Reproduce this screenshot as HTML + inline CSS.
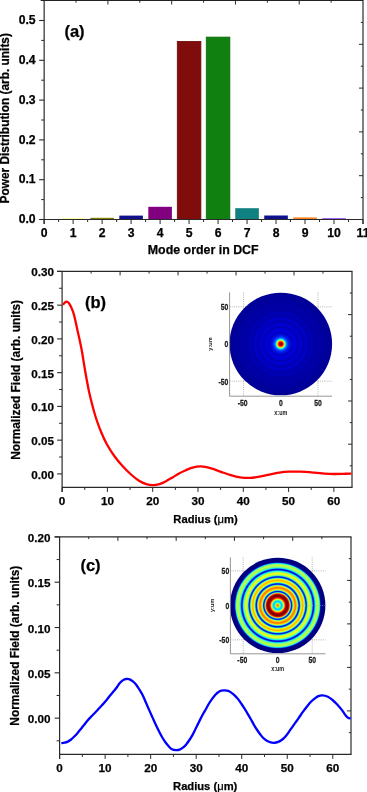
<!DOCTYPE html>
<html><head><meta charset="utf-8"><style>
html,body{margin:0;padding:0;background:#fff;}
body{width:367px;height:792px;overflow:hidden;font-family:"Liberation Sans", sans-serif;}
svg{display:block;will-change:transform;}
text.b{stroke:#000;stroke-width:0.25px;}
</style></head><body>
<svg width="367" height="792" viewBox="0 0 367 792" font-family="'Liberation Sans', sans-serif"><defs><radialGradient id="gb" cx="0.5" cy="0.5" r="0.5"><stop offset="0.0000" stop-color="#800000"/><stop offset="0.0195" stop-color="#a00000"/><stop offset="0.0370" stop-color="#e00000"/><stop offset="0.0526" stop-color="#ff5000"/><stop offset="0.0643" stop-color="#ffc000"/><stop offset="0.0760" stop-color="#c0ff40"/><stop offset="0.0877" stop-color="#40ffc0"/><stop offset="0.1014" stop-color="#00b0ff"/><stop offset="0.1170" stop-color="#0070ff"/><stop offset="0.1345" stop-color="#0040ff"/><stop offset="0.1520" stop-color="#0020f4"/><stop offset="0.1793" stop-color="#0010e4"/><stop offset="0.1988" stop-color="#0006cc"/><stop offset="0.2144" stop-color="#0000b4"/><stop offset="0.2339" stop-color="#0000cc"/><stop offset="0.2534" stop-color="#0000dc"/><stop offset="0.2729" stop-color="#0000e0"/><stop offset="0.2963" stop-color="#0000d0"/><stop offset="0.3314" stop-color="#0000b0"/><stop offset="0.3606" stop-color="#0000c8"/><stop offset="0.3860" stop-color="#0000d4"/><stop offset="0.4094" stop-color="#0000c4"/><stop offset="0.4386" stop-color="#0000ac"/><stop offset="0.4678" stop-color="#0000c0"/><stop offset="0.4971" stop-color="#0000c8"/><stop offset="0.5263" stop-color="#0000b8"/><stop offset="0.5556" stop-color="#0000a4"/><stop offset="0.5848" stop-color="#0000b4"/><stop offset="0.6082" stop-color="#0000b8"/><stop offset="0.6355" stop-color="#0000ac"/><stop offset="0.6628" stop-color="#00009e"/><stop offset="0.7018" stop-color="#0000a8"/><stop offset="0.7797" stop-color="#0000a4"/><stop offset="0.8772" stop-color="#00009c"/><stop offset="1.0000" stop-color="#000096"/></radialGradient><radialGradient id="gc" cx="0.5" cy="0.5" r="0.5"><stop offset="0.0000" stop-color="#ff5b00"/><stop offset="0.0052" stop-color="#ff5f00"/><stop offset="0.0105" stop-color="#ff6c00"/><stop offset="0.0157" stop-color="#ff8100"/><stop offset="0.0210" stop-color="#fe9d01"/><stop offset="0.0262" stop-color="#fbbc04"/><stop offset="0.0314" stop-color="#f2dc0d"/><stop offset="0.0367" stop-color="#dcf123"/><stop offset="0.0419" stop-color="#befb41"/><stop offset="0.0472" stop-color="#98fe67"/><stop offset="0.0524" stop-color="#6afe95"/><stop offset="0.0577" stop-color="#3ffcc0"/><stop offset="0.0629" stop-color="#1ff6e0"/><stop offset="0.0681" stop-color="#0cebf3"/><stop offset="0.0734" stop-color="#03dcfc"/><stop offset="0.0786" stop-color="#00cfff"/><stop offset="0.0839" stop-color="#00caff"/><stop offset="0.0891" stop-color="#01d1fe"/><stop offset="0.0943" stop-color="#05dffa"/><stop offset="0.0996" stop-color="#12efed"/><stop offset="0.1048" stop-color="#2bf8d4"/><stop offset="0.1101" stop-color="#4ffdb0"/><stop offset="0.1153" stop-color="#7cfe83"/><stop offset="0.1205" stop-color="#a9fd56"/><stop offset="0.1258" stop-color="#ccf633"/><stop offset="0.1310" stop-color="#e6e619"/><stop offset="0.1363" stop-color="#f6c609"/><stop offset="0.1415" stop-color="#fd9a02"/><stop offset="0.1468" stop-color="#fe6d00"/><stop offset="0.1520" stop-color="#fb4200"/><stop offset="0.1572" stop-color="#f11f00"/><stop offset="0.1625" stop-color="#e00b00"/><stop offset="0.1677" stop-color="#ca0300"/><stop offset="0.1730" stop-color="#b40100"/><stop offset="0.1782" stop-color="#9f0000"/><stop offset="0.1834" stop-color="#8f0000"/><stop offset="0.1887" stop-color="#860000"/><stop offset="0.1939" stop-color="#810000"/><stop offset="0.1992" stop-color="#800000"/><stop offset="0.2044" stop-color="#800000"/><stop offset="0.2096" stop-color="#830000"/><stop offset="0.2149" stop-color="#890000"/><stop offset="0.2201" stop-color="#950000"/><stop offset="0.2254" stop-color="#a80100"/><stop offset="0.2306" stop-color="#c00400"/><stop offset="0.2358" stop-color="#d80f00"/><stop offset="0.2411" stop-color="#ee2b00"/><stop offset="0.2463" stop-color="#f75903"/><stop offset="0.2516" stop-color="#f28d0c"/><stop offset="0.2568" stop-color="#dbbe24"/><stop offset="0.2621" stop-color="#a8df57"/><stop offset="0.2673" stop-color="#66df99"/><stop offset="0.2725" stop-color="#31bfcb"/><stop offset="0.2778" stop-color="#1288e4"/><stop offset="0.2830" stop-color="#044ae3"/><stop offset="0.2883" stop-color="#0123d7"/><stop offset="0.2935" stop-color="#0020d5"/><stop offset="0.2987" stop-color="#023ee1"/><stop offset="0.3040" stop-color="#0b79e8"/><stop offset="0.3092" stop-color="#24b8d8"/><stop offset="0.3145" stop-color="#50e1af"/><stop offset="0.3197" stop-color="#88f377"/><stop offset="0.3249" stop-color="#c2f43d"/><stop offset="0.3302" stop-color="#e8ea17"/><stop offset="0.3354" stop-color="#f8dc07"/><stop offset="0.3407" stop-color="#fecb01"/><stop offset="0.3459" stop-color="#ffb800"/><stop offset="0.3512" stop-color="#ffa500"/><stop offset="0.3564" stop-color="#ff9400"/><stop offset="0.3616" stop-color="#ff8500"/><stop offset="0.3669" stop-color="#ff7900"/><stop offset="0.3721" stop-color="#ff7800"/><stop offset="0.3774" stop-color="#ff8000"/><stop offset="0.3826" stop-color="#ff9000"/><stop offset="0.3878" stop-color="#ffa500"/><stop offset="0.3931" stop-color="#febb01"/><stop offset="0.3983" stop-color="#fbcf04"/><stop offset="0.4036" stop-color="#f1e10e"/><stop offset="0.4088" stop-color="#d3f02c"/><stop offset="0.4140" stop-color="#a0f65f"/><stop offset="0.4193" stop-color="#66ef98"/><stop offset="0.4245" stop-color="#34d5ca"/><stop offset="0.4298" stop-color="#12a3e9"/><stop offset="0.4350" stop-color="#0465ee"/><stop offset="0.4403" stop-color="#0134e1"/><stop offset="0.4455" stop-color="#0017d1"/><stop offset="0.4507" stop-color="#0013cf"/><stop offset="0.4560" stop-color="#012dde"/><stop offset="0.4612" stop-color="#035ced"/><stop offset="0.4665" stop-color="#0d95ee"/><stop offset="0.4717" stop-color="#26ccd8"/><stop offset="0.4769" stop-color="#54edab"/><stop offset="0.4822" stop-color="#89fa76"/><stop offset="0.4874" stop-color="#bbfd44"/><stop offset="0.4927" stop-color="#e1f91e"/><stop offset="0.4979" stop-color="#f5f10a"/><stop offset="0.5031" stop-color="#fce403"/><stop offset="0.5084" stop-color="#fed501"/><stop offset="0.5136" stop-color="#ffc400"/><stop offset="0.5189" stop-color="#ffb700"/><stop offset="0.5241" stop-color="#ffb300"/><stop offset="0.5294" stop-color="#ffb900"/><stop offset="0.5346" stop-color="#ffc700"/><stop offset="0.5398" stop-color="#fdd902"/><stop offset="0.5451" stop-color="#f7e808"/><stop offset="0.5503" stop-color="#e9f416"/><stop offset="0.5556" stop-color="#cbfb34"/><stop offset="0.5608" stop-color="#a0fc5f"/><stop offset="0.5660" stop-color="#6ff490"/><stop offset="0.5713" stop-color="#40debf"/><stop offset="0.5765" stop-color="#1aafe2"/><stop offset="0.5818" stop-color="#0771ec"/><stop offset="0.5870" stop-color="#023be2"/><stop offset="0.5922" stop-color="#001bd3"/><stop offset="0.5975" stop-color="#0015d0"/><stop offset="0.6027" stop-color="#012ddf"/><stop offset="0.6080" stop-color="#035ced"/><stop offset="0.6132" stop-color="#0d95ee"/><stop offset="0.6184" stop-color="#25ccd9"/><stop offset="0.6237" stop-color="#4cedb3"/><stop offset="0.6289" stop-color="#71fa8e"/><stop offset="0.6342" stop-color="#8ffe70"/><stop offset="0.6394" stop-color="#a7ff58"/><stop offset="0.6447" stop-color="#baff45"/><stop offset="0.6499" stop-color="#caff35"/><stop offset="0.6551" stop-color="#daff25"/><stop offset="0.6604" stop-color="#e9fe16"/><stop offset="0.6656" stop-color="#f2fc0d"/><stop offset="0.6709" stop-color="#f3fc0c"/><stop offset="0.6761" stop-color="#eafd15"/><stop offset="0.6813" stop-color="#d6fe29"/><stop offset="0.6866" stop-color="#bdff42"/><stop offset="0.6918" stop-color="#a4ff5b"/><stop offset="0.6971" stop-color="#8bff74"/><stop offset="0.7023" stop-color="#6fff90"/><stop offset="0.7075" stop-color="#54feab"/><stop offset="0.7128" stop-color="#3bfcc4"/><stop offset="0.7180" stop-color="#24f2db"/><stop offset="0.7233" stop-color="#11d8ed"/><stop offset="0.7285" stop-color="#06a9f7"/><stop offset="0.7338" stop-color="#0273f6"/><stop offset="0.7390" stop-color="#0040ea"/><stop offset="0.7442" stop-color="#001ad4"/><stop offset="0.7495" stop-color="#000ac5"/><stop offset="0.7547" stop-color="#000cca"/><stop offset="0.7600" stop-color="#001edd"/><stop offset="0.7652" stop-color="#0044f1"/><stop offset="0.7704" stop-color="#017afa"/><stop offset="0.7757" stop-color="#06acf9"/><stop offset="0.7809" stop-color="#10d6ef"/><stop offset="0.7862" stop-color="#23f0dc"/><stop offset="0.7914" stop-color="#3dfbc2"/><stop offset="0.7966" stop-color="#58fea7"/><stop offset="0.8019" stop-color="#71ff8e"/><stop offset="0.8071" stop-color="#87ff78"/><stop offset="0.8124" stop-color="#98ff67"/><stop offset="0.8176" stop-color="#a2ff5d"/><stop offset="0.8229" stop-color="#aaff55"/><stop offset="0.8281" stop-color="#b2ff4d"/><stop offset="0.8333" stop-color="#b8ff47"/><stop offset="0.8386" stop-color="#bbff44"/><stop offset="0.8438" stop-color="#baff45"/><stop offset="0.8491" stop-color="#b2ff4d"/><stop offset="0.8543" stop-color="#a4ff5b"/><stop offset="0.8595" stop-color="#94ff6b"/><stop offset="0.8648" stop-color="#7fff80"/><stop offset="0.8700" stop-color="#5ffca0"/><stop offset="0.8753" stop-color="#3bf3c4"/><stop offset="0.8805" stop-color="#1edae0"/><stop offset="0.8857" stop-color="#0caef0"/><stop offset="0.8910" stop-color="#036fed"/><stop offset="0.8962" stop-color="#0036d6"/><stop offset="0.9015" stop-color="#0014b6"/><stop offset="0.9067" stop-color="#000699"/><stop offset="0.9119" stop-color="#000187"/><stop offset="0.9172" stop-color="#000081"/><stop offset="0.9224" stop-color="#000080"/><stop offset="0.9277" stop-color="#000080"/><stop offset="0.9329" stop-color="#000080"/><stop offset="0.9382" stop-color="#000080"/><stop offset="0.9434" stop-color="#000080"/><stop offset="0.9486" stop-color="#000080"/><stop offset="0.9539" stop-color="#000080"/><stop offset="0.9591" stop-color="#000080"/><stop offset="0.9644" stop-color="#000080"/><stop offset="0.9696" stop-color="#000080"/><stop offset="0.9748" stop-color="#000080"/><stop offset="0.9801" stop-color="#000080"/><stop offset="0.9853" stop-color="#000080"/><stop offset="0.9906" stop-color="#000080"/><stop offset="0.9958" stop-color="#000080"/></radialGradient></defs><rect x="61.34" y="218.60" width="23.60" height="0.90" fill="#ffff10"/><rect x="90.32" y="217.80" width="23.60" height="1.70" fill="#808000"/><rect x="119.31" y="215.60" width="23.60" height="3.90" fill="#10108c"/><rect x="148.30" y="206.80" width="23.60" height="12.70" fill="#800080"/><rect x="177.28" y="41.40" width="23.60" height="178.10" fill="#800c0c" stroke="#6a0808" stroke-width="0.8"/><rect x="206.27" y="37.10" width="23.60" height="182.40" fill="#108010" stroke="#0c6a0c" stroke-width="0.8"/><rect x="235.25" y="208.20" width="23.60" height="11.30" fill="#108080"/><rect x="264.24" y="215.50" width="23.60" height="4.00" fill="#10108c"/><rect x="293.23" y="217.40" width="23.60" height="2.10" fill="#ff8020"/><rect x="322.21" y="218.30" width="23.60" height="1.20" fill="#8020ff"/><line x1="44.15" y1="0.00" x2="44.15" y2="224.00" stroke="#2a2a2a" stroke-width="1.2" /><line x1="40.65" y1="0.50" x2="363.50" y2="0.50" stroke="#222" stroke-width="1.2" /><line x1="363.00" y1="0.50" x2="363.00" y2="224.00" stroke="#2a2a2a" stroke-width="1.2" /><line x1="44.15" y1="219.50" x2="363.00" y2="219.50" stroke="#2a2a2a" stroke-width="1.2" /><line x1="39.15" y1="219.50" x2="44.15" y2="219.50" stroke="#2a2a2a" stroke-width="1.1" /><text class="b" x="35.60" y="223.20" font-size="12.2" font-weight="bold" text-anchor="end" fill="#000" >0.0</text><line x1="41.15" y1="199.60" x2="44.15" y2="199.60" stroke="#2a2a2a" stroke-width="1.0" /><line x1="39.15" y1="179.70" x2="44.15" y2="179.70" stroke="#2a2a2a" stroke-width="1.1" /><text class="b" x="35.60" y="183.40" font-size="12.2" font-weight="bold" text-anchor="end" fill="#000" >0.1</text><line x1="41.15" y1="159.80" x2="44.15" y2="159.80" stroke="#2a2a2a" stroke-width="1.0" /><line x1="39.15" y1="139.90" x2="44.15" y2="139.90" stroke="#2a2a2a" stroke-width="1.1" /><text class="b" x="35.60" y="143.60" font-size="12.2" font-weight="bold" text-anchor="end" fill="#000" >0.2</text><line x1="41.15" y1="120.00" x2="44.15" y2="120.00" stroke="#2a2a2a" stroke-width="1.0" /><line x1="39.15" y1="100.10" x2="44.15" y2="100.10" stroke="#2a2a2a" stroke-width="1.1" /><text class="b" x="35.60" y="103.80" font-size="12.2" font-weight="bold" text-anchor="end" fill="#000" >0.3</text><line x1="41.15" y1="80.20" x2="44.15" y2="80.20" stroke="#2a2a2a" stroke-width="1.0" /><line x1="39.15" y1="60.30" x2="44.15" y2="60.30" stroke="#2a2a2a" stroke-width="1.1" /><text class="b" x="35.60" y="64.00" font-size="12.2" font-weight="bold" text-anchor="end" fill="#000" >0.4</text><line x1="41.15" y1="40.40" x2="44.15" y2="40.40" stroke="#2a2a2a" stroke-width="1.0" /><line x1="39.15" y1="20.50" x2="44.15" y2="20.50" stroke="#2a2a2a" stroke-width="1.1" /><text class="b" x="35.60" y="24.20" font-size="12.2" font-weight="bold" text-anchor="end" fill="#000" >0.5</text><line x1="44.15" y1="219.50" x2="44.15" y2="224.00" stroke="#2a2a2a" stroke-width="1.0" /><text class="b" x="44.15" y="237.20" font-size="12.2" font-weight="bold" text-anchor="middle" fill="#000" >0</text><line x1="58.64" y1="219.50" x2="58.64" y2="222.00" stroke="#2a2a2a" stroke-width="1.0" /><line x1="73.14" y1="219.50" x2="73.14" y2="224.00" stroke="#2a2a2a" stroke-width="1.0" /><text class="b" x="73.14" y="237.20" font-size="12.2" font-weight="bold" text-anchor="middle" fill="#000" >1</text><line x1="87.63" y1="219.50" x2="87.63" y2="222.00" stroke="#2a2a2a" stroke-width="1.0" /><line x1="102.12" y1="219.50" x2="102.12" y2="224.00" stroke="#2a2a2a" stroke-width="1.0" /><text class="b" x="102.12" y="237.20" font-size="12.2" font-weight="bold" text-anchor="middle" fill="#000" >2</text><line x1="116.62" y1="219.50" x2="116.62" y2="222.00" stroke="#2a2a2a" stroke-width="1.0" /><line x1="131.11" y1="219.50" x2="131.11" y2="224.00" stroke="#2a2a2a" stroke-width="1.0" /><text class="b" x="131.11" y="237.20" font-size="12.2" font-weight="bold" text-anchor="middle" fill="#000" >3</text><line x1="145.60" y1="219.50" x2="145.60" y2="222.00" stroke="#2a2a2a" stroke-width="1.0" /><line x1="160.10" y1="219.50" x2="160.10" y2="224.00" stroke="#2a2a2a" stroke-width="1.0" /><text class="b" x="160.10" y="237.20" font-size="12.2" font-weight="bold" text-anchor="middle" fill="#000" >4</text><line x1="174.59" y1="219.50" x2="174.59" y2="222.00" stroke="#2a2a2a" stroke-width="1.0" /><line x1="189.08" y1="219.50" x2="189.08" y2="224.00" stroke="#2a2a2a" stroke-width="1.0" /><text class="b" x="189.08" y="237.20" font-size="12.2" font-weight="bold" text-anchor="middle" fill="#000" >5</text><line x1="203.58" y1="219.50" x2="203.58" y2="222.00" stroke="#2a2a2a" stroke-width="1.0" /><line x1="218.07" y1="219.50" x2="218.07" y2="224.00" stroke="#2a2a2a" stroke-width="1.0" /><text class="b" x="218.07" y="237.20" font-size="12.2" font-weight="bold" text-anchor="middle" fill="#000" >6</text><line x1="232.56" y1="219.50" x2="232.56" y2="222.00" stroke="#2a2a2a" stroke-width="1.0" /><line x1="247.05" y1="219.50" x2="247.05" y2="224.00" stroke="#2a2a2a" stroke-width="1.0" /><text class="b" x="247.05" y="237.20" font-size="12.2" font-weight="bold" text-anchor="middle" fill="#000" >7</text><line x1="261.55" y1="219.50" x2="261.55" y2="222.00" stroke="#2a2a2a" stroke-width="1.0" /><line x1="276.04" y1="219.50" x2="276.04" y2="224.00" stroke="#2a2a2a" stroke-width="1.0" /><text class="b" x="276.04" y="237.20" font-size="12.2" font-weight="bold" text-anchor="middle" fill="#000" >8</text><line x1="290.53" y1="219.50" x2="290.53" y2="222.00" stroke="#2a2a2a" stroke-width="1.0" /><line x1="305.03" y1="219.50" x2="305.03" y2="224.00" stroke="#2a2a2a" stroke-width="1.0" /><text class="b" x="305.03" y="237.20" font-size="12.2" font-weight="bold" text-anchor="middle" fill="#000" >9</text><line x1="319.52" y1="219.50" x2="319.52" y2="222.00" stroke="#2a2a2a" stroke-width="1.0" /><line x1="334.01" y1="219.50" x2="334.01" y2="224.00" stroke="#2a2a2a" stroke-width="1.0" /><text class="b" x="334.01" y="237.20" font-size="12.2" font-weight="bold" text-anchor="middle" fill="#000" >10</text><line x1="348.51" y1="219.50" x2="348.51" y2="222.00" stroke="#2a2a2a" stroke-width="1.0" /><line x1="363.00" y1="219.50" x2="363.00" y2="224.00" stroke="#2a2a2a" stroke-width="1.0" /><text class="b" x="363.00" y="237.20" font-size="12.2" font-weight="bold" text-anchor="middle" fill="#000" >11</text><line x1="76.03" y1="0.50" x2="76.03" y2="2.70" stroke="#2a2a2a" stroke-width="1.0" /><line x1="107.92" y1="0.50" x2="107.92" y2="4.50" stroke="#2a2a2a" stroke-width="1.0" /><line x1="139.81" y1="0.50" x2="139.81" y2="2.70" stroke="#2a2a2a" stroke-width="1.0" /><line x1="171.69" y1="0.50" x2="171.69" y2="4.50" stroke="#2a2a2a" stroke-width="1.0" /><line x1="203.58" y1="0.50" x2="203.58" y2="2.70" stroke="#2a2a2a" stroke-width="1.0" /><line x1="235.46" y1="0.50" x2="235.46" y2="4.50" stroke="#2a2a2a" stroke-width="1.0" /><line x1="267.35" y1="0.50" x2="267.35" y2="2.70" stroke="#2a2a2a" stroke-width="1.0" /><line x1="299.23" y1="0.50" x2="299.23" y2="4.50" stroke="#2a2a2a" stroke-width="1.0" /><line x1="331.12" y1="0.50" x2="331.12" y2="2.70" stroke="#2a2a2a" stroke-width="1.0" /><line x1="360.80" y1="22.40" x2="363.00" y2="22.40" stroke="#2a2a2a" stroke-width="1.0" /><line x1="359.00" y1="44.30" x2="363.00" y2="44.30" stroke="#2a2a2a" stroke-width="1.0" /><line x1="360.80" y1="66.20" x2="363.00" y2="66.20" stroke="#2a2a2a" stroke-width="1.0" /><line x1="359.00" y1="88.10" x2="363.00" y2="88.10" stroke="#2a2a2a" stroke-width="1.0" /><line x1="360.80" y1="110.00" x2="363.00" y2="110.00" stroke="#2a2a2a" stroke-width="1.0" /><line x1="359.00" y1="131.90" x2="363.00" y2="131.90" stroke="#2a2a2a" stroke-width="1.0" /><line x1="360.80" y1="153.80" x2="363.00" y2="153.80" stroke="#2a2a2a" stroke-width="1.0" /><line x1="359.00" y1="175.70" x2="363.00" y2="175.70" stroke="#2a2a2a" stroke-width="1.0" /><line x1="360.80" y1="197.60" x2="363.00" y2="197.60" stroke="#2a2a2a" stroke-width="1.0" /><text class="b" x="74.50" y="37.10" font-size="16.5" font-weight="bold" text-anchor="middle" fill="#000" >(a)</text><text class="b" x="203.20" y="254.10" font-size="12.4" font-weight="bold" text-anchor="middle" fill="#000" >Mode order in DCF</text><text class="b" transform="translate(8.7,118.3) rotate(-90)" font-size="11.9" font-weight="bold" text-anchor="middle">Power Distribution (arb. units)</text><line x1="62.10" y1="271.40" x2="62.10" y2="491.90" stroke="#2a2a2a" stroke-width="1.2" /><line x1="57.10" y1="271.40" x2="352.50" y2="271.40" stroke="#2a2a2a" stroke-width="1.2" /><line x1="352.00" y1="271.40" x2="352.00" y2="487.40" stroke="#2a2a2a" stroke-width="1.2" /><line x1="62.10" y1="487.40" x2="352.50" y2="487.40" stroke="#2a2a2a" stroke-width="1.2" /><line x1="57.10" y1="473.90" x2="62.10" y2="473.90" stroke="#2a2a2a" stroke-width="1.1" /><text class="b" x="54.00" y="478.90" font-size="11.7" font-weight="bold" text-anchor="end" fill="#000" >0.00</text><line x1="59.10" y1="457.02" x2="62.10" y2="457.02" stroke="#2a2a2a" stroke-width="1.0" /><line x1="57.10" y1="440.15" x2="62.10" y2="440.15" stroke="#2a2a2a" stroke-width="1.1" /><text class="b" x="54.00" y="445.15" font-size="11.7" font-weight="bold" text-anchor="end" fill="#000" >0.05</text><line x1="59.10" y1="423.27" x2="62.10" y2="423.27" stroke="#2a2a2a" stroke-width="1.0" /><line x1="57.10" y1="406.40" x2="62.10" y2="406.40" stroke="#2a2a2a" stroke-width="1.1" /><text class="b" x="54.00" y="411.40" font-size="11.7" font-weight="bold" text-anchor="end" fill="#000" >0.10</text><line x1="59.10" y1="389.52" x2="62.10" y2="389.52" stroke="#2a2a2a" stroke-width="1.0" /><line x1="57.10" y1="372.65" x2="62.10" y2="372.65" stroke="#2a2a2a" stroke-width="1.1" /><text class="b" x="54.00" y="377.65" font-size="11.7" font-weight="bold" text-anchor="end" fill="#000" >0.15</text><line x1="59.10" y1="355.77" x2="62.10" y2="355.77" stroke="#2a2a2a" stroke-width="1.0" /><line x1="57.10" y1="338.90" x2="62.10" y2="338.90" stroke="#2a2a2a" stroke-width="1.1" /><text class="b" x="54.00" y="343.90" font-size="11.7" font-weight="bold" text-anchor="end" fill="#000" >0.20</text><line x1="59.10" y1="322.02" x2="62.10" y2="322.02" stroke="#2a2a2a" stroke-width="1.0" /><line x1="57.10" y1="305.15" x2="62.10" y2="305.15" stroke="#2a2a2a" stroke-width="1.1" /><text class="b" x="54.00" y="310.15" font-size="11.7" font-weight="bold" text-anchor="end" fill="#000" >0.25</text><line x1="59.10" y1="288.27" x2="62.10" y2="288.27" stroke="#2a2a2a" stroke-width="1.0" /><line x1="57.10" y1="271.40" x2="62.10" y2="271.40" stroke="#2a2a2a" stroke-width="1.1" /><text class="b" x="54.00" y="276.40" font-size="11.7" font-weight="bold" text-anchor="end" fill="#000" >0.30</text><line x1="62.10" y1="487.40" x2="62.10" y2="491.90" stroke="#2a2a2a" stroke-width="1.0" /><text class="b" x="62.10" y="504.80" font-size="11.7" font-weight="bold" text-anchor="middle" fill="#000" >0</text><line x1="84.75" y1="487.40" x2="84.75" y2="489.90" stroke="#2a2a2a" stroke-width="1.0" /><line x1="107.40" y1="487.40" x2="107.40" y2="491.90" stroke="#2a2a2a" stroke-width="1.0" /><text class="b" x="107.40" y="504.80" font-size="11.7" font-weight="bold" text-anchor="middle" fill="#000" >10</text><line x1="130.05" y1="487.40" x2="130.05" y2="489.90" stroke="#2a2a2a" stroke-width="1.0" /><line x1="152.69" y1="487.40" x2="152.69" y2="491.90" stroke="#2a2a2a" stroke-width="1.0" /><text class="b" x="152.69" y="504.80" font-size="11.7" font-weight="bold" text-anchor="middle" fill="#000" >20</text><line x1="175.34" y1="487.40" x2="175.34" y2="489.90" stroke="#2a2a2a" stroke-width="1.0" /><line x1="197.99" y1="487.40" x2="197.99" y2="491.90" stroke="#2a2a2a" stroke-width="1.0" /><text class="b" x="197.99" y="504.80" font-size="11.7" font-weight="bold" text-anchor="middle" fill="#000" >30</text><line x1="220.64" y1="487.40" x2="220.64" y2="489.90" stroke="#2a2a2a" stroke-width="1.0" /><line x1="243.29" y1="487.40" x2="243.29" y2="491.90" stroke="#2a2a2a" stroke-width="1.0" /><text class="b" x="243.29" y="504.80" font-size="11.7" font-weight="bold" text-anchor="middle" fill="#000" >40</text><line x1="265.94" y1="487.40" x2="265.94" y2="489.90" stroke="#2a2a2a" stroke-width="1.0" /><line x1="288.58" y1="487.40" x2="288.58" y2="491.90" stroke="#2a2a2a" stroke-width="1.0" /><text class="b" x="288.58" y="504.80" font-size="11.7" font-weight="bold" text-anchor="middle" fill="#000" >50</text><line x1="311.23" y1="487.40" x2="311.23" y2="489.90" stroke="#2a2a2a" stroke-width="1.0" /><line x1="333.88" y1="487.40" x2="333.88" y2="491.90" stroke="#2a2a2a" stroke-width="1.0" /><text class="b" x="333.88" y="504.80" font-size="11.7" font-weight="bold" text-anchor="middle" fill="#000" >60</text><line x1="91.09" y1="271.40" x2="91.09" y2="273.60" stroke="#2a2a2a" stroke-width="1.0" /><line x1="120.08" y1="271.40" x2="120.08" y2="275.40" stroke="#2a2a2a" stroke-width="1.0" /><line x1="149.07" y1="271.40" x2="149.07" y2="273.60" stroke="#2a2a2a" stroke-width="1.0" /><line x1="178.06" y1="271.40" x2="178.06" y2="275.40" stroke="#2a2a2a" stroke-width="1.0" /><line x1="207.05" y1="271.40" x2="207.05" y2="273.60" stroke="#2a2a2a" stroke-width="1.0" /><line x1="236.04" y1="271.40" x2="236.04" y2="275.40" stroke="#2a2a2a" stroke-width="1.0" /><line x1="265.03" y1="271.40" x2="265.03" y2="273.60" stroke="#2a2a2a" stroke-width="1.0" /><line x1="294.02" y1="271.40" x2="294.02" y2="275.40" stroke="#2a2a2a" stroke-width="1.0" /><line x1="323.01" y1="271.40" x2="323.01" y2="273.60" stroke="#2a2a2a" stroke-width="1.0" /><line x1="349.80" y1="293.00" x2="352.00" y2="293.00" stroke="#2a2a2a" stroke-width="1.0" /><line x1="348.00" y1="314.60" x2="352.00" y2="314.60" stroke="#2a2a2a" stroke-width="1.0" /><line x1="349.80" y1="336.20" x2="352.00" y2="336.20" stroke="#2a2a2a" stroke-width="1.0" /><line x1="348.00" y1="357.80" x2="352.00" y2="357.80" stroke="#2a2a2a" stroke-width="1.0" /><line x1="349.80" y1="379.40" x2="352.00" y2="379.40" stroke="#2a2a2a" stroke-width="1.0" /><line x1="348.00" y1="401.00" x2="352.00" y2="401.00" stroke="#2a2a2a" stroke-width="1.0" /><line x1="349.80" y1="422.60" x2="352.00" y2="422.60" stroke="#2a2a2a" stroke-width="1.0" /><line x1="348.00" y1="444.20" x2="352.00" y2="444.20" stroke="#2a2a2a" stroke-width="1.0" /><line x1="349.80" y1="465.80" x2="352.00" y2="465.80" stroke="#2a2a2a" stroke-width="1.0" /><text class="b" x="95.60" y="308.20" font-size="16.5" font-weight="bold" text-anchor="middle" fill="#000" >(b)</text><text class="b" x="205.50" y="522.60" font-size="11.2" font-weight="bold" text-anchor="middle" fill="#000" >Radius (<tspan font-weight="normal">&#956;</tspan>m)</text><text class="b" transform="translate(20.2,379.9) rotate(-90)" font-size="11.9" font-weight="bold" text-anchor="middle">Normalized Field (arb. units)</text><path d="M63.00,304.80 C63.30,304.43 64.23,303.13 64.80,302.60 C65.37,302.07 65.87,301.65 66.40,301.60 C66.93,301.55 67.50,301.93 68.00,302.30 C68.50,302.67 68.80,302.83 69.40,303.80 C70.00,304.77 70.87,306.38 71.60,308.10 C72.33,309.82 73.13,311.85 73.80,314.10 C74.47,316.35 74.97,318.78 75.60,321.60 C76.23,324.42 76.90,327.80 77.60,331.00 C78.30,334.20 79.07,337.35 79.80,340.80 C80.53,344.25 81.22,347.33 82.00,351.70 C82.78,356.07 83.75,362.53 84.50,367.00 C85.25,371.47 85.75,374.42 86.50,378.50 C87.25,382.58 88.03,387.08 89.00,391.50 C89.97,395.92 91.08,400.42 92.30,405.00 C93.52,409.58 94.80,414.42 96.30,419.00 C97.80,423.58 99.52,428.25 101.30,432.50 C103.08,436.75 104.83,440.58 107.00,444.50 C109.17,448.42 111.72,452.42 114.30,456.00 C116.88,459.58 119.80,463.00 122.50,466.00 C125.20,469.00 127.75,471.53 130.50,474.00 C133.25,476.47 136.37,479.10 139.00,480.80 C141.63,482.50 143.98,483.48 146.30,484.20 C148.62,484.92 150.72,485.12 152.90,485.10 C155.08,485.08 157.22,484.75 159.40,484.10 C161.58,483.45 163.82,482.32 166.00,481.20 C168.18,480.08 170.33,478.68 172.50,477.40 C174.67,476.12 176.87,474.65 179.00,473.50 C181.13,472.35 183.22,471.45 185.30,470.50 C187.38,469.55 188.83,468.48 191.50,467.80 C194.17,467.12 198.02,466.30 201.30,466.40 C204.58,466.50 207.92,467.50 211.20,468.40 C214.48,469.30 217.73,470.68 221.00,471.80 C224.27,472.92 227.63,474.18 230.80,475.10 C233.97,476.02 236.83,476.83 240.00,477.30 C243.17,477.77 246.53,478.00 249.80,477.90 C253.07,477.80 256.33,477.25 259.60,476.70 C262.87,476.15 266.13,475.27 269.40,474.60 C272.67,473.93 275.93,473.18 279.20,472.70 C282.47,472.22 285.53,471.87 289.00,471.70 C292.47,471.53 295.73,471.53 300.00,471.70 C304.27,471.87 310.53,472.38 314.60,472.70 C318.67,473.02 321.13,473.38 324.40,473.60 C327.67,473.82 330.93,473.97 334.20,474.00 C337.47,474.03 341.13,473.87 344.00,473.80 C346.87,473.73 350.17,473.63 351.40,473.60" fill="none" stroke="#ff0000" stroke-width="2.3" stroke-linejoin="round" stroke-linecap="butt"/><line x1="59.60" y1="536.90" x2="59.60" y2="758.90" stroke="#2a2a2a" stroke-width="1.2" /><line x1="54.60" y1="536.90" x2="351.50" y2="536.90" stroke="#2a2a2a" stroke-width="1.2" /><line x1="351.00" y1="536.90" x2="351.00" y2="754.40" stroke="#2a2a2a" stroke-width="1.2" /><line x1="59.60" y1="754.40" x2="351.50" y2="754.40" stroke="#2a2a2a" stroke-width="1.2" /><line x1="56.60" y1="740.81" x2="59.60" y2="740.81" stroke="#2a2a2a" stroke-width="1.0" /><line x1="54.60" y1="718.15" x2="59.60" y2="718.15" stroke="#2a2a2a" stroke-width="1.1" /><text class="b" x="50.40" y="723.15" font-size="11.7" font-weight="bold" text-anchor="end" fill="#000" >0.00</text><line x1="56.60" y1="695.49" x2="59.60" y2="695.49" stroke="#2a2a2a" stroke-width="1.0" /><line x1="54.60" y1="672.84" x2="59.60" y2="672.84" stroke="#2a2a2a" stroke-width="1.1" /><text class="b" x="50.40" y="677.84" font-size="11.7" font-weight="bold" text-anchor="end" fill="#000" >0.05</text><line x1="56.60" y1="650.18" x2="59.60" y2="650.18" stroke="#2a2a2a" stroke-width="1.0" /><line x1="54.60" y1="627.52" x2="59.60" y2="627.52" stroke="#2a2a2a" stroke-width="1.1" /><text class="b" x="50.40" y="632.52" font-size="11.7" font-weight="bold" text-anchor="end" fill="#000" >0.10</text><line x1="56.60" y1="604.87" x2="59.60" y2="604.87" stroke="#2a2a2a" stroke-width="1.0" /><line x1="54.60" y1="582.21" x2="59.60" y2="582.21" stroke="#2a2a2a" stroke-width="1.1" /><text class="b" x="50.40" y="587.21" font-size="11.7" font-weight="bold" text-anchor="end" fill="#000" >0.15</text><line x1="56.60" y1="559.56" x2="59.60" y2="559.56" stroke="#2a2a2a" stroke-width="1.0" /><line x1="54.60" y1="536.90" x2="59.60" y2="536.90" stroke="#2a2a2a" stroke-width="1.1" /><text class="b" x="50.40" y="541.90" font-size="11.7" font-weight="bold" text-anchor="end" fill="#000" >0.20</text><line x1="59.60" y1="754.40" x2="59.60" y2="758.90" stroke="#2a2a2a" stroke-width="1.0" /><text class="b" x="59.60" y="771.80" font-size="11.7" font-weight="bold" text-anchor="middle" fill="#000" >0</text><line x1="82.37" y1="754.40" x2="82.37" y2="756.90" stroke="#2a2a2a" stroke-width="1.0" /><line x1="105.13" y1="754.40" x2="105.13" y2="758.90" stroke="#2a2a2a" stroke-width="1.0" /><text class="b" x="105.13" y="771.80" font-size="11.7" font-weight="bold" text-anchor="middle" fill="#000" >10</text><line x1="127.90" y1="754.40" x2="127.90" y2="756.90" stroke="#2a2a2a" stroke-width="1.0" /><line x1="150.66" y1="754.40" x2="150.66" y2="758.90" stroke="#2a2a2a" stroke-width="1.0" /><text class="b" x="150.66" y="771.80" font-size="11.7" font-weight="bold" text-anchor="middle" fill="#000" >20</text><line x1="173.43" y1="754.40" x2="173.43" y2="756.90" stroke="#2a2a2a" stroke-width="1.0" /><line x1="196.19" y1="754.40" x2="196.19" y2="758.90" stroke="#2a2a2a" stroke-width="1.0" /><text class="b" x="196.19" y="771.80" font-size="11.7" font-weight="bold" text-anchor="middle" fill="#000" >30</text><line x1="218.96" y1="754.40" x2="218.96" y2="756.90" stroke="#2a2a2a" stroke-width="1.0" /><line x1="241.72" y1="754.40" x2="241.72" y2="758.90" stroke="#2a2a2a" stroke-width="1.0" /><text class="b" x="241.72" y="771.80" font-size="11.7" font-weight="bold" text-anchor="middle" fill="#000" >40</text><line x1="264.49" y1="754.40" x2="264.49" y2="756.90" stroke="#2a2a2a" stroke-width="1.0" /><line x1="287.26" y1="754.40" x2="287.26" y2="758.90" stroke="#2a2a2a" stroke-width="1.0" /><text class="b" x="287.26" y="771.80" font-size="11.7" font-weight="bold" text-anchor="middle" fill="#000" >50</text><line x1="310.02" y1="754.40" x2="310.02" y2="756.90" stroke="#2a2a2a" stroke-width="1.0" /><line x1="332.79" y1="754.40" x2="332.79" y2="758.90" stroke="#2a2a2a" stroke-width="1.0" /><text class="b" x="332.79" y="771.80" font-size="11.7" font-weight="bold" text-anchor="middle" fill="#000" >60</text><line x1="88.74" y1="536.90" x2="88.74" y2="539.10" stroke="#2a2a2a" stroke-width="1.0" /><line x1="117.88" y1="536.90" x2="117.88" y2="540.90" stroke="#2a2a2a" stroke-width="1.0" /><line x1="147.02" y1="536.90" x2="147.02" y2="539.10" stroke="#2a2a2a" stroke-width="1.0" /><line x1="176.16" y1="536.90" x2="176.16" y2="540.90" stroke="#2a2a2a" stroke-width="1.0" /><line x1="205.30" y1="536.90" x2="205.30" y2="539.10" stroke="#2a2a2a" stroke-width="1.0" /><line x1="234.44" y1="536.90" x2="234.44" y2="540.90" stroke="#2a2a2a" stroke-width="1.0" /><line x1="263.58" y1="536.90" x2="263.58" y2="539.10" stroke="#2a2a2a" stroke-width="1.0" /><line x1="292.72" y1="536.90" x2="292.72" y2="540.90" stroke="#2a2a2a" stroke-width="1.0" /><line x1="321.86" y1="536.90" x2="321.86" y2="539.10" stroke="#2a2a2a" stroke-width="1.0" /><line x1="348.80" y1="558.65" x2="351.00" y2="558.65" stroke="#2a2a2a" stroke-width="1.0" /><line x1="347.00" y1="580.40" x2="351.00" y2="580.40" stroke="#2a2a2a" stroke-width="1.0" /><line x1="348.80" y1="602.15" x2="351.00" y2="602.15" stroke="#2a2a2a" stroke-width="1.0" /><line x1="347.00" y1="623.90" x2="351.00" y2="623.90" stroke="#2a2a2a" stroke-width="1.0" /><line x1="348.80" y1="645.65" x2="351.00" y2="645.65" stroke="#2a2a2a" stroke-width="1.0" /><line x1="347.00" y1="667.40" x2="351.00" y2="667.40" stroke="#2a2a2a" stroke-width="1.0" /><line x1="348.80" y1="689.15" x2="351.00" y2="689.15" stroke="#2a2a2a" stroke-width="1.0" /><line x1="347.00" y1="710.90" x2="351.00" y2="710.90" stroke="#2a2a2a" stroke-width="1.0" /><line x1="348.80" y1="732.65" x2="351.00" y2="732.65" stroke="#2a2a2a" stroke-width="1.0" /><text class="b" x="90.50" y="570.90" font-size="16.5" font-weight="bold" text-anchor="middle" fill="#000" >(c)</text><text class="b" x="205.20" y="789.50" font-size="11.2" font-weight="bold" text-anchor="middle" fill="#000" >Radius (<tspan font-weight="normal">&#956;</tspan>m)</text><text class="b" transform="translate(19.3,645.7) rotate(-90)" font-size="11.9" font-weight="bold" text-anchor="middle">Normalized Field (arb. units)</text><path d="M61.30,743.10 C61.83,743.03 63.42,742.95 64.50,742.70 C65.58,742.45 66.70,742.13 67.80,741.60 C68.90,741.07 70.02,740.35 71.10,739.50 C72.18,738.65 73.22,737.60 74.30,736.50 C75.38,735.40 76.50,734.17 77.60,732.90 C78.70,731.63 79.80,730.25 80.90,728.90 C82.00,727.55 83.12,726.17 84.20,724.80 C85.28,723.43 86.32,721.98 87.40,720.70 C88.48,719.42 89.60,718.25 90.70,717.10 C91.80,715.95 92.92,714.90 94.00,713.80 C95.08,712.70 96.12,711.67 97.20,710.50 C98.28,709.33 99.40,708.02 100.50,706.80 C101.60,705.58 102.72,704.43 103.80,703.20 C104.88,701.97 105.92,700.72 107.00,699.40 C108.08,698.08 109.20,696.65 110.30,695.30 C111.40,693.95 112.53,692.60 113.60,691.30 C114.67,690.00 115.67,688.87 116.70,687.50 C117.73,686.13 118.73,684.33 119.80,683.10 C120.87,681.87 122.02,680.78 123.10,680.10 C124.18,679.42 125.22,679.13 126.30,679.00 C127.38,678.87 128.50,678.90 129.60,679.30 C130.70,679.70 131.80,680.50 132.90,681.40 C134.00,682.30 135.12,683.33 136.20,684.70 C137.28,686.07 138.32,687.83 139.40,689.60 C140.48,691.37 141.60,693.12 142.70,695.30 C143.80,697.48 144.92,700.23 146.00,702.70 C147.08,705.17 148.12,707.65 149.20,710.10 C150.28,712.55 151.40,714.95 152.50,717.40 C153.60,719.85 154.72,722.48 155.80,724.80 C156.88,727.12 157.92,729.18 159.00,731.30 C160.08,733.42 161.20,735.63 162.30,737.50 C163.40,739.37 164.50,741.00 165.60,742.50 C166.70,744.00 167.83,745.37 168.90,746.50 C169.97,747.63 170.77,748.70 172.00,749.30 C173.23,749.90 175.03,750.05 176.30,750.10 C177.57,750.15 178.50,750.00 179.60,749.60 C180.70,749.20 181.80,748.57 182.90,747.70 C184.00,746.83 185.12,745.68 186.20,744.40 C187.28,743.12 188.32,741.63 189.40,740.00 C190.48,738.37 191.60,736.60 192.70,734.60 C193.80,732.60 194.92,730.18 196.00,728.00 C197.08,725.82 198.12,723.67 199.20,721.50 C200.28,719.33 201.40,717.05 202.50,715.00 C203.60,712.95 204.72,711.12 205.80,709.20 C206.88,707.28 207.92,705.27 209.00,703.50 C210.08,701.73 211.20,700.10 212.30,698.60 C213.40,697.10 214.50,695.65 215.60,694.50 C216.70,693.35 217.92,692.35 218.90,691.70 C219.88,691.05 220.52,690.82 221.50,690.60 C222.48,690.38 223.70,690.35 224.80,690.40 C225.90,690.45 227.02,690.53 228.10,690.90 C229.18,691.27 230.22,691.87 231.30,692.60 C232.38,693.33 233.50,694.25 234.60,695.30 C235.70,696.35 236.80,697.53 237.90,698.90 C239.00,700.27 240.12,701.92 241.20,703.50 C242.28,705.08 243.32,706.68 244.40,708.40 C245.48,710.12 246.60,711.95 247.70,713.80 C248.80,715.65 249.92,717.58 251.00,719.50 C252.08,721.42 253.12,723.47 254.20,725.30 C255.28,727.13 256.40,728.87 257.50,730.50 C258.60,732.13 259.72,733.73 260.80,735.10 C261.88,736.47 262.92,737.70 264.00,738.70 C265.08,739.70 266.20,740.48 267.30,741.10 C268.40,741.72 269.48,742.12 270.60,742.40 C271.72,742.68 272.73,742.88 274.00,742.80 C275.27,742.72 276.82,742.45 278.20,741.90 C279.58,741.35 280.95,740.58 282.30,739.50 C283.65,738.42 284.95,737.03 286.30,735.40 C287.65,733.77 289.03,731.62 290.40,729.70 C291.77,727.78 293.13,725.82 294.50,723.90 C295.87,721.98 297.23,720.15 298.60,718.20 C299.97,716.25 301.33,714.10 302.70,712.20 C304.07,710.30 305.50,708.45 306.80,706.80 C308.10,705.15 309.32,703.57 310.50,702.30 C311.68,701.03 312.68,700.18 313.90,699.20 C315.12,698.22 316.37,697.05 317.80,696.40 C319.23,695.75 320.82,695.25 322.50,695.30 C324.18,695.35 326.23,695.92 327.90,696.70 C329.57,697.48 330.95,698.70 332.50,700.00 C334.05,701.30 335.65,702.85 337.20,704.50 C338.75,706.15 340.38,708.07 341.80,709.90 C343.22,711.73 344.67,714.18 345.70,715.50 C346.73,716.82 347.17,717.30 348.00,717.80 C348.83,718.30 350.25,718.38 350.70,718.50" fill="none" stroke="#0000ff" stroke-width="2.3" stroke-linejoin="round"/><line x1="243.60" y1="292.40" x2="243.60" y2="396.20" stroke="#a0a0a0" stroke-width="0.8" stroke-dasharray="1,1.2"/><line x1="229.60" y1="381.20" x2="332.00" y2="381.20" stroke="#a0a0a0" stroke-width="0.8" stroke-dasharray="1,1.2"/><line x1="318.00" y1="292.40" x2="318.00" y2="396.20" stroke="#a0a0a0" stroke-width="0.8" stroke-dasharray="1,1.2"/><line x1="229.60" y1="306.80" x2="332.00" y2="306.80" stroke="#a0a0a0" stroke-width="0.8" stroke-dasharray="1,1.2"/><circle cx="280.80" cy="344.00" r="51.30" fill="url(#gb)"/><line x1="229.60" y1="292.40" x2="229.60" y2="396.20" stroke="#8a8a8a" stroke-width="0.9"/><line x1="229.60" y1="396.20" x2="332.00" y2="396.20" stroke="#8a8a8a" stroke-width="0.9"/><text transform="translate(228.40,384.59) scale(0.76,1)" font-size="9.0" font-weight="bold" text-anchor="end" fill="#1a1a1a" stroke="#1a1a1a" stroke-width="0.25">-50</text><text transform="translate(242.70,405.90) scale(0.76,1)" font-size="9.0" font-weight="bold" text-anchor="middle" fill="#1a1a1a" stroke="#1a1a1a" stroke-width="0.25">-50</text><text transform="translate(228.40,347.39) scale(0.76,1)" font-size="9.0" font-weight="bold" text-anchor="end" fill="#1a1a1a" stroke="#1a1a1a" stroke-width="0.25">0</text><text transform="translate(280.80,405.90) scale(0.76,1)" font-size="9.0" font-weight="bold" text-anchor="middle" fill="#1a1a1a" stroke="#1a1a1a" stroke-width="0.25">0</text><text transform="translate(228.40,310.19) scale(0.76,1)" font-size="9.0" font-weight="bold" text-anchor="end" fill="#1a1a1a" stroke="#1a1a1a" stroke-width="0.25">50</text><text transform="translate(318.00,405.90) scale(0.76,1)" font-size="9.0" font-weight="bold" text-anchor="middle" fill="#1a1a1a" stroke="#1a1a1a" stroke-width="0.25">50</text><text transform="translate(280.80,414.90) scale(0.78,1)" font-size="7.00" font-weight="bold" text-anchor="middle" fill="#1a1a1a">x:um</text><text transform="translate(212.35,344.00) rotate(-90) scale(0.80,0.85)" font-size="7.00" font-weight="bold" text-anchor="middle" fill="#1a1a1a">y:um</text><line x1="243.20" y1="557.40" x2="243.20" y2="653.80" stroke="#a0a0a0" stroke-width="0.8" stroke-dasharray="1,1.2"/><line x1="230.40" y1="639.90" x2="325.50" y2="639.90" stroke="#a0a0a0" stroke-width="0.8" stroke-dasharray="1,1.2"/><line x1="312.20" y1="557.40" x2="312.20" y2="653.80" stroke="#a0a0a0" stroke-width="0.8" stroke-dasharray="1,1.2"/><line x1="230.40" y1="570.90" x2="325.50" y2="570.90" stroke="#a0a0a0" stroke-width="0.8" stroke-dasharray="1,1.2"/><circle cx="277.70" cy="605.40" r="47.70" fill="url(#gc)"/><line x1="230.40" y1="557.40" x2="230.40" y2="653.80" stroke="#8a8a8a" stroke-width="0.9"/><line x1="230.40" y1="653.80" x2="325.50" y2="653.80" stroke="#8a8a8a" stroke-width="0.9"/><text transform="translate(229.20,643.29) scale(0.76,1)" font-size="9.0" font-weight="bold" text-anchor="end" fill="#1a1a1a" stroke="#1a1a1a" stroke-width="0.25">-50</text><text transform="translate(242.30,663.30) scale(0.76,1)" font-size="9.0" font-weight="bold" text-anchor="middle" fill="#1a1a1a" stroke="#1a1a1a" stroke-width="0.25">-50</text><text transform="translate(229.20,608.79) scale(0.76,1)" font-size="9.0" font-weight="bold" text-anchor="end" fill="#1a1a1a" stroke="#1a1a1a" stroke-width="0.25">0</text><text transform="translate(277.70,663.30) scale(0.76,1)" font-size="9.0" font-weight="bold" text-anchor="middle" fill="#1a1a1a" stroke="#1a1a1a" stroke-width="0.25">0</text><text transform="translate(229.20,574.29) scale(0.76,1)" font-size="9.0" font-weight="bold" text-anchor="end" fill="#1a1a1a" stroke="#1a1a1a" stroke-width="0.25">50</text><text transform="translate(312.20,663.30) scale(0.76,1)" font-size="9.0" font-weight="bold" text-anchor="middle" fill="#1a1a1a" stroke="#1a1a1a" stroke-width="0.25">50</text><text transform="translate(277.70,671.30) scale(0.78,1)" font-size="7.00" font-weight="bold" text-anchor="middle" fill="#1a1a1a">x:um</text><text transform="translate(213.95,605.40) rotate(-90) scale(0.80,0.85)" font-size="7.00" font-weight="bold" text-anchor="middle" fill="#1a1a1a">y:um</text><line x1="298" y1="605.5" x2="325.5" y2="605.5" stroke="#a0a0b0" stroke-width="0.8" stroke-dasharray="1,1.4" opacity="0.8"/></svg>
</body></html>
